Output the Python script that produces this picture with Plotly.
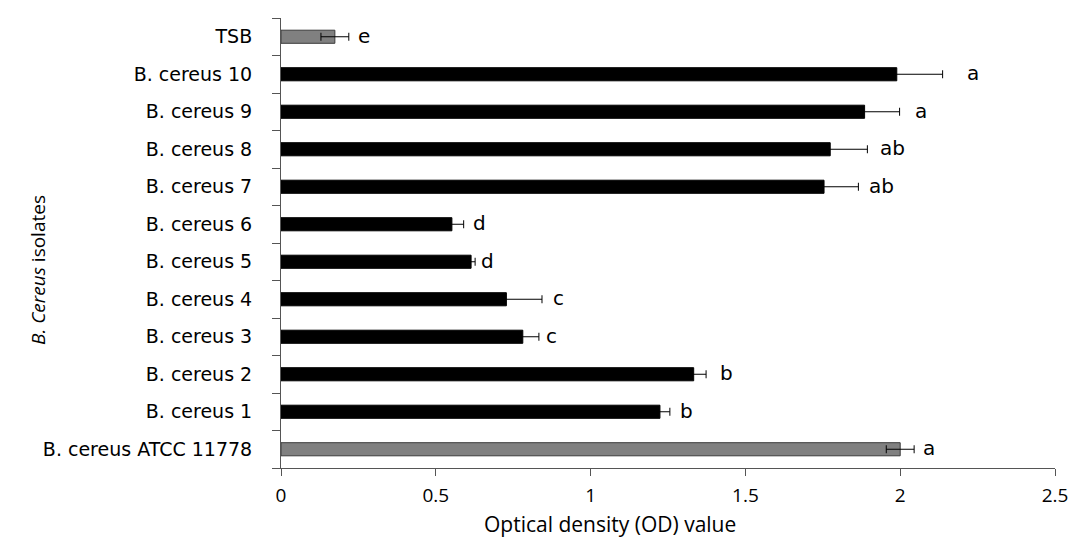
import plotly.graph_objects as go

categories = ["B. cereus ATCC 11778", "B. cereus 1", "B. cereus 2", "B. cereus 3",
              "B. cereus 4", "B. cereus 5", "B. cereus 6", "B. cereus 7",
              "B. cereus 8", "B. cereus 9", "B. cereus 10", "TSB"]
od_values = [2.00, 1.224, 1.333, 0.781, 0.728, 0.614, 0.552, 1.754, 1.774, 1.885, 1.989, 0.174]
od_errors = [0.045, 0.032, 0.040, 0.052, 0.115, 0.013, 0.038, 0.111, 0.120, 0.113, 0.148, 0.045]
letters = ["a", "b", "b", "c", "c", "d", "d", "ab", "ab", "a", "a", "e"]
is_control = [True, False, False, False, False, False, False, False, False, False, False, True]

# style
label_gap_px = [7, 8, 12, 5, 9, 4, 7, 9, 11, 13, 22, 7]
bar_colors = ["#808080" if c else "#000000" for c in is_control]
line_colors = ["#3a3a3a" if c else "#000000" for c in is_control]

fig = go.Figure()
fig.add_trace(go.Bar(
    y=categories, x=od_values, orientation="h",
    marker=dict(color=bar_colors, line=dict(color=line_colors, width=1)),
    error_x=dict(type="data", array=od_errors, visible=True,
                 color="#000000", thickness=1, width=4),
    showlegend=False, hoverinfo="x+y",
))

for cat, v, e, lab, gap in zip(categories, od_values, od_errors, letters, label_gap_px):
    fig.add_annotation(x=v + e, y=cat, text=lab, showarrow=False,
                       xanchor="left", yanchor="middle", xshift=gap, yshift=1,
                       font=dict(family="DejaVu Sans", size=20, color="#000000"))

fig.add_annotation(xref="paper", yref="paper", x=0.425, y=-0.124,
                   text="Optical density (OD) value", showarrow=False,
                   xanchor="center", yanchor="middle",
                   font=dict(family="Open Sans", size=21, color="#000000"))
fig.add_annotation(xref="paper", yref="paper", x=-0.314, y=0.44,
                   text="<i>B. Cereus</i> isolates", showarrow=False, textangle=-90,
                   xanchor="center", yanchor="middle",
                   font=dict(family="Open Sans", size=19, color="#000000"))

fig.update_layout(
    width=1070, height=531,
    margin=dict(l=273, r=21, t=10, b=71),
    paper_bgcolor="white", plot_bgcolor="white",
    bargap=0.65,
    xaxis=dict(range=[0, 2.5], dtick=0.5, tick0=0, showgrid=False, zeroline=False,
               showline=True, linecolor="#555555", linewidth=1,
               ticks="outside", ticklen=7, tickcolor="#555555",
               tickfont=dict(family="Open Sans", size=19, color="#000000"),
               ticklabelstandoff=3),
    yaxis=dict(type="category", categoryorder="array", categoryarray=categories,
               showgrid=False, showline=True, linecolor="#555555", linewidth=1,
               ticks="outside", ticklen=8, tickcolor="#555555", tickson="boundaries",
               tickfont=dict(family="DejaVu Sans", size=19, color="#000000"),
               ticklabelstandoff=24),
)

fig.write_html("out.html")
